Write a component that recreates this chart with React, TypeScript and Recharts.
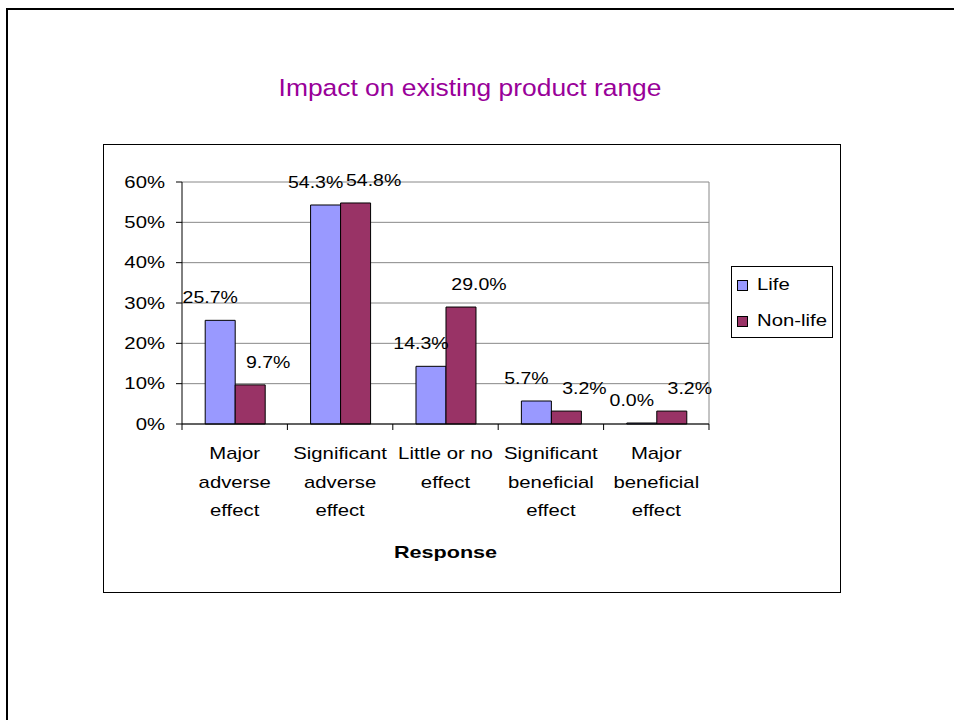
import React from "react";
import {
  BarChart,
  Bar,
  XAxis,
  YAxis,
  CartesianGrid,
  Legend,
  LabelList,
} from "recharts";

const categories = [
  "Major\nadverse\neffect",
  "Significant\nadverse\neffect",
  "Little or no\neffect",
  "Significant\nbeneficial\neffect",
  "Major\nbeneficial\neffect",
];
const lifeValues = [25.7, 54.3, 14.3, 5.7, 0.0];
const nonLifeValues = [9.7, 54.8, 29.0, 3.2, 3.2];
const yTicks = [0, 10, 20, 30, 40, 50, 60];
const seriesNames = ["Life", "Non-life"];

const data = categories.map((category, i) => ({
  category,
  life: lifeValues[i],
  nonLife: nonLifeValues[i],
}));

const FONT = "'Liberation Sans', Arial, sans-serif";
const STRETCH = 1.27; // the exported text is wider than plain Arial
const LABEL_STRETCH = 1.22;
const LIFE_COLOR = "#9999FF";
const NON_LIFE_COLOR = "#993366";
const GRID_COLOR = "#888888";

const CHART_W = 736;
const CHART_H = 447;
const MARGIN = { top: 37, right: 131, bottom: 0, left: 0 };
const Y_AXIS_W = 78;
const X_AXIS_H = 168;
const BAND = (CHART_W - MARGIN.left - MARGIN.right - Y_AXIS_W) / categories.length;

const YTick = (props: any) => {
  const { x, y, payload } = props;
  return (
    <text
      transform={`translate(${x},${y}) scale(${STRETCH},1)`}
      textAnchor="end"
      dy="0.355em"
      fontSize={16}
      fontFamily={FONT}
      fill="#000"
    >
      {payload.value}%
    </text>
  );
};

const XTick = (props: any) => {
  const { x, y, payload, index } = props;
  const lines = String(payload.value).split("\n");
  const last = index === categories.length - 1;
  return (
    <g transform={`translate(${x},${y})`}>
      <line x1={-BAND / 2} y1={0} x2={-BAND / 2} y2={6} stroke="#000" />
      {last && <line x1={BAND / 2} y1={0} x2={BAND / 2} y2={6} stroke="#000" />}
      {lines.map((line, i) => (
        <text
          key={i}
          transform={`translate(0,${35 + i * 28.5}) scale(${STRETCH},1)`}
          textAnchor="middle"
          fontSize={16}
          fontFamily={FONT}
          fill="#000"
        >
          {line}
        </text>
      ))}
    </g>
  );
};

const AxisTitle = (props: any) => {
  const { viewBox } = props;
  const cx = viewBox.x + viewBox.width / 2;
  return (
    <text
      transform={`translate(${cx},${viewBox.y + 134}) scale(${STRETCH},1)`}
      textAnchor="middle"
      fontSize={17}
      fontWeight="bold"
      fontFamily={FONT}
      fill="#000"
    >
      Response
    </text>
  );
};

const makeLabel = (dx: number) => (props: any) => {
  const { x, y, width, value } = props;
  const cx = Number(x) + Number(width) / 2 + dx;
  return (
    <text
      transform={`translate(${cx},${Number(y) - 17}) scale(${LABEL_STRETCH},1)`}
      textAnchor="middle"
      fontSize={16}
      fontFamily={FONT}
      fill="#000"
    >
      {Number(value).toFixed(1)}%
    </text>
  );
};

const LegendBox = () => {
  const colors = [LIFE_COLOR, NON_LIFE_COLOR];
  return (
    <div
      style={{
        position: "relative",
        width: 102,
        height: 72,
        border: "1px solid #000",
        boxSizing: "border-box",
        background: "#fff",
        fontFamily: FONT,
        fontSize: 16,
      }}
    >
      {seriesNames.map((name, i) => (
        <div key={name}>
          <div
            style={{
              position: "absolute",
              left: 5,
              top: 13 + i * 36,
              width: 11,
              height: 11,
              boxSizing: "border-box",
              border: "1px solid #000",
              background: colors[i],
            }}
          />
          <div
            style={{
              position: "absolute",
              left: 25,
              top: 8 + i * 36,
              lineHeight: "20px",
              whiteSpace: "nowrap",
              transform: `scaleX(${STRETCH})`,
              transformOrigin: "left center",
            }}
          >
            {name}
          </div>
        </div>
      ))}
    </div>
  );
};

export default function App() {
  return (
    <div
      style={{
        position: "fixed",
        left: 0,
        top: 0,
        width: 954,
        height: 720,
        overflow: "hidden",
        background: "#fff",
      }}
    >
      <div
        style={{
          position: "absolute",
          left: 6,
          top: 8,
          width: 1200,
          height: 1200,
          borderLeft: "2px solid #000",
          borderTop: "2px solid #000",
        }}
      />
      <svg width={954} height={130} style={{ position: "absolute", left: 0, top: 0 }}>
        <text
          transform="translate(470,96) scale(1.1,1)"
          textAnchor="middle"
          fontSize={24}
          fontFamily={FONT}
          fill="#990099"
        >
          Impact on existing product range
        </text>
      </svg>
      <div
        style={{
          position: "absolute",
          left: 103,
          top: 144,
          width: 738,
          height: 449,
          border: "1px solid #000",
          boxSizing: "border-box",
          background: "#fff",
        }}
      >
        <BarChart
          width={CHART_W}
          height={CHART_H}
          data={data}
          margin={MARGIN}
          barCategoryGap="22%"
          barGap={0}
        >
          <CartesianGrid
            stroke={GRID_COLOR}
            horizontal={true}
            vertical={true}
            verticalCoordinatesGenerator={({ offset }: any) => [
              offset.left + offset.width,
            ]}
          />
          <XAxis
            dataKey="category"
            height={X_AXIS_H}
            interval={0}
            tickLine={false}
            tickSize={0}
            tickMargin={0}
            axisLine={{ stroke: "#000" }}
            tick={<XTick />}
            label={<AxisTitle />}
          />
          <YAxis
            width={Y_AXIS_W}
            domain={[0, 60]}
            ticks={yTicks}
            interval={0}
            tickSize={6}
            tickMargin={11}
            tickLine={{ stroke: "#000" }}
            axisLine={{ stroke: "#000" }}
            tick={<YTick />}
          />
          <Legend
            layout="vertical"
            align="center"
            verticalAlign="middle"
            wrapperStyle={{ left: 627, top: 121, width: 102, height: 72 }}
            content={<LegendBox />}
          />
          <Bar
            dataKey="life"
            name={seriesNames[0]}
            fill={LIFE_COLOR}
            stroke="#000"
            strokeWidth={1}
            minPointSize={1}
            isAnimationActive={false}
          >
            <LabelList dataKey="life" content={makeLabel(-10)} />
          </Bar>
          <Bar
            dataKey="nonLife"
            name={seriesNames[1]}
            fill={NON_LIFE_COLOR}
            stroke="#000"
            strokeWidth={1}
            isAnimationActive={false}
          >
            <LabelList dataKey="nonLife" content={makeLabel(18)} />
          </Bar>
        </BarChart>
      </div>
    </div>
  );
}
